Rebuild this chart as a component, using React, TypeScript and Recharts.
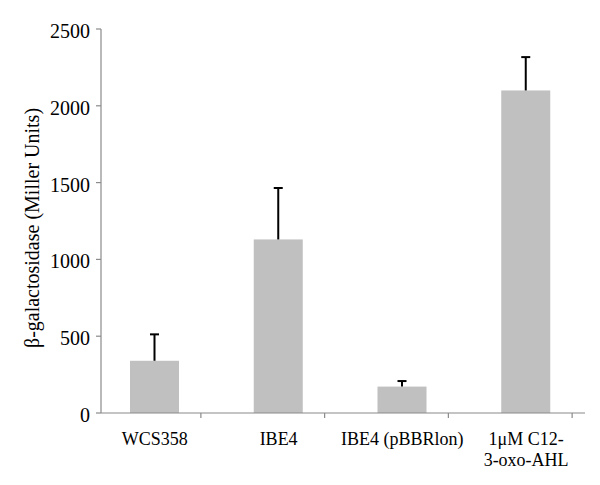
import React from "react";
import { BarChart, Bar, XAxis, YAxis } from "recharts";

const categories = ["WCS358", "IBE4", "IBE4 (pBBRlon)", "1μM C12-\n3-oxo-AHL"];
const means = [340, 1130, 172, 2100];
const errors = [172, 335, 36, 217];
const yTicks = [0, 500, 1000, 1500, 2000, 2500];

const data = categories.map((name, i) => ({ name, value: means[i], err: errors[i] }));

const FONT = "'Liberation Serif', 'Times New Roman', serif";
const AXIS = "#8a8a8a";

// bar plus a one-sided (upper) error bar, scaled from the bar's own height
const BarWithError = (props: any) => {
  const { x, y, width, height, payload } = props;
  const pxPerUnit = payload.value ? height / payload.value : 0;
  const cx = x + width / 2;
  const top = y - payload.err * pxPerUnit;
  return (
    <g>
      <rect x={x} y={y} width={width} height={height} fill="#c0c0c0" />
      <line x1={cx} y1={y} x2={cx} y2={top} stroke="#000" strokeWidth={2} />
      <line x1={cx - 4.5} y1={top} x2={cx + 4.5} y2={top} stroke="#000" strokeWidth={2} />
    </g>
  );
};

const XTick = (props: any) => {
  const { x, y, payload } = props;
  const lines = String(payload.value).split("\n");
  return (
    <g>
      <line x1={x + 46} y1={y} x2={x + 46} y2={y + 5} stroke={AXIS} strokeWidth={1.2} />
      {lines.map((l, i) => (
        <text key={i} x={x} y={y + 32 + i * 21} textAnchor="middle" fontSize={18} fontFamily={FONT} fill="#000">
          {l}
        </text>
      ))}
    </g>
  );
};

const YTick = (props: any) => {
  const { x, y, payload } = props;
  return (
    <text x={x} y={y + 2} textAnchor="end" dominantBaseline="central" fontSize={20} fontFamily={FONT} fill="#000">
      {payload.value}
    </text>
  );
};

const YLabel = () => (
  <text
    x={32}
    y={228}
    transform="rotate(-90, 32, 228)"
    textAnchor="middle"
    dominantBaseline="central"
    fontSize={20}
    fontFamily={FONT}
    fill="#000"
  >
    β-galactosidase (Miller Units)
  </text>
);

export default function App() {
  return (
    <div style={{ position: "absolute", left: 0, top: 0, background: "#fff" }}>
      <BarChart width={600} height={485} data={data} margin={{ top: 29, right: 15, bottom: 0, left: 0 }}>
        <XAxis
          dataKey="name"
          height={72}
          interval={0}
          padding={{ left: -8, right: -3 }}
          tickLine={false}
          tickSize={0}
          tickMargin={0}
          axisLine={{ stroke: AXIS, strokeWidth: 1.2 }}
          tick={<XTick />}
        />
        <YAxis
          width={101}
          domain={[0, 2500]}
          ticks={yTicks}
          interval={0}
          tickSize={5}
          tickMargin={6}
          axisLine={{ stroke: AXIS, strokeWidth: 1.2 }}
          tickLine={{ stroke: AXIS, strokeWidth: 1.2 }}
          tick={<YTick />}
          label={<YLabel />}
        />
        <Bar dataKey="value" barSize={49} shape={<BarWithError />} isAnimationActive={false} />
      </BarChart>
    </div>
  );
}
